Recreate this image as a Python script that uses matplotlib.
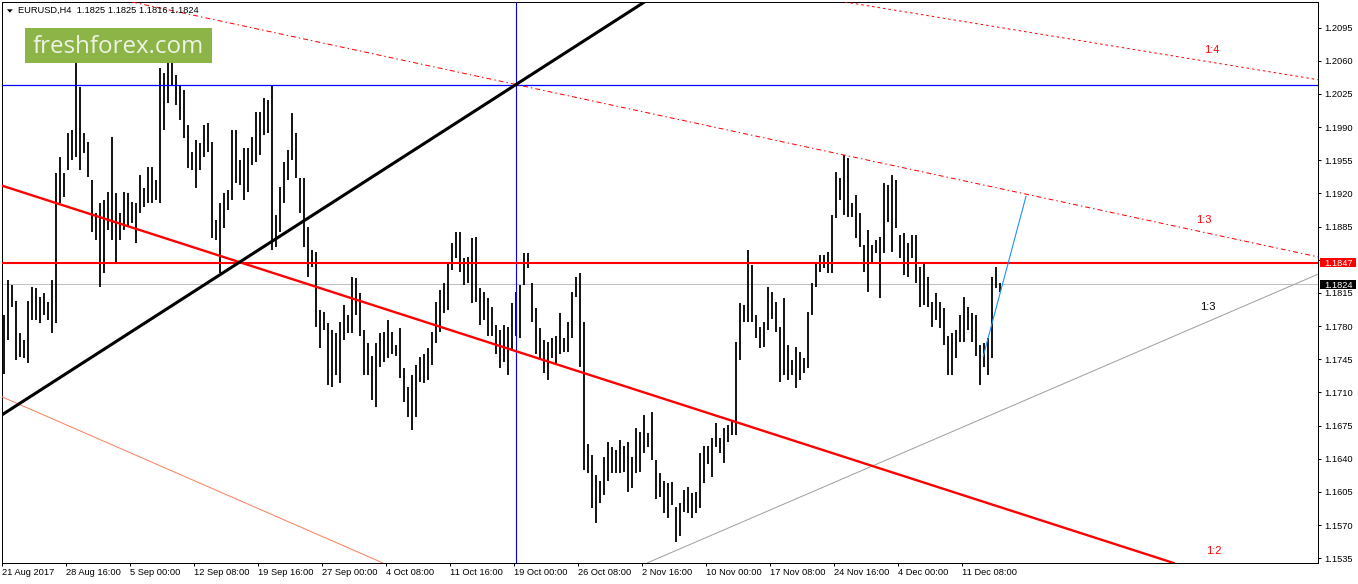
import numpy as np
import matplotlib
matplotlib.use("Agg")
import matplotlib.pyplot as plt
import matplotlib.transforms as mtransforms
from matplotlib.patches import Rectangle, Polygon

plt.rcParams['font.family'] = ['Liberation Sans', 'DejaVu Sans']

# EURUSD, 8-hour bars (two H4 candles each): high and low
bar_high = [
    1.1792, 1.1829, 1.1823, 1.1807, 1.1773, 1.1765, 1.1807, 1.1821, 1.1820, 1.1811,
    1.1815, 1.1805, 1.1829, 1.1942, 1.1959, 1.1942, 1.1984, 1.1987, 1.2066, 1.2032,
    1.1984, 1.1974, 1.1934, 1.1899, 1.1910, 1.1913, 1.1922, 1.1980, 1.1921, 1.1899,
    1.1922, 1.1921, 1.1911, 1.1910, 1.1940, 1.1926, 1.1948, 1.1948, 1.1934, 1.2052,
    1.2047, 1.2071, 1.2066, 1.2045, 1.2034, 1.2029, 1.1992, 1.1964, 1.1976, 1.1973,
    1.1992, 1.1994, 1.1974, 1.1892, 1.1910, 1.1921, 1.1924, 1.1987, 1.1987, 1.1955,
    1.1968, 1.1968, 1.1980, 1.2006, 1.2006, 1.2021, 1.2019, 1.2034, 1.1897, 1.1927,
    1.1953, 1.1966, 1.2005, 1.1984, 1.1936, 1.1936, 1.1885, 1.1860, 1.1858, 1.1797,
    1.1795, 1.1783, 1.1776, 1.1773, 1.1784, 1.1802, 1.1792, 1.1832, 1.1831, 1.1815,
    1.1776, 1.1762, 1.1749, 1.1762, 1.1773, 1.1774, 1.1786, 1.1774, 1.1760, 1.1778,
    1.1736, 1.1716, 1.1728, 1.1739, 1.1747, 1.1751, 1.1757, 1.1774, 1.1805, 1.1818,
    1.1825, 1.1848, 1.1868, 1.1879, 1.1879, 1.1852, 1.1853, 1.1873, 1.1874, 1.1820,
    1.1816, 1.1810, 1.1800, 1.1781, 1.1776, 1.1781, 1.1779, 1.1804, 1.1816, 1.1823,
    1.1857, 1.1857, 1.1826, 1.1799, 1.1778, 1.1765, 1.1763, 1.1767, 1.1770, 1.1794,
    1.1767, 1.1784, 1.1816, 1.1832, 1.1836, 1.1784, 1.1656, 1.1644, 1.1623, 1.1617,
    1.1642, 1.1658, 1.1652, 1.1649, 1.1660, 1.1654, 1.1658, 1.1642, 1.1672, 1.1668,
    1.1686, 1.1667, 1.1689, 1.1639, 1.1625, 1.1617, 1.1614, 1.1615, 1.1589, 1.1593,
    1.1607, 1.1610, 1.1604, 1.1605, 1.1646, 1.1654, 1.1654, 1.1662, 1.1678, 1.1662,
    1.1673, 1.1676, 1.1681, 1.1763, 1.1804, 1.1802, 1.1860, 1.1844, 1.1792, 1.1779,
    1.1784, 1.1821, 1.1816, 1.1805, 1.1779, 1.1810, 1.1760, 1.1744, 1.1758, 1.1753,
    1.1746, 1.1795, 1.1826, 1.1846, 1.1855, 1.1855, 1.1858, 1.1897, 1.1943, 1.1936,
    1.1961, 1.1957, 1.1910, 1.1918, 1.1899, 1.1866, 1.1881, 1.1866, 1.1871, 1.1874,
    1.1931, 1.1929, 1.1940, 1.1934, 1.1876, 1.1878, 1.1868, 1.1876, 1.1876, 1.1842,
    1.1848, 1.1832, 1.1805, 1.1815, 1.1805, 1.1799, 1.1770, 1.1773, 1.1776, 1.1792,
    1.1811, 1.1800, 1.1794, 1.1792, 1.1760, 1.1762, 1.1767, 1.1832, 1.1842, 1.1825,
]
bar_low = [
    1.1730, 1.1765, 1.1800, 1.1744, 1.1747, 1.1746, 1.1741, 1.1786, 1.1786, 1.1783,
    1.1792, 1.1786, 1.1773, 1.1783, 1.1910, 1.1916, 1.1945, 1.1955, 1.1959, 1.1945,
    1.1963, 1.1937, 1.1879, 1.1871, 1.1821, 1.1836, 1.1881, 1.1871, 1.1848, 1.1871,
    1.1881, 1.1885, 1.1889, 1.1868, 1.1899, 1.1906, 1.1910, 1.1910, 1.1913, 1.1910,
    1.1987, 1.2015, 1.2034, 1.2013, 1.1998, 1.1979, 1.1947, 1.1945, 1.1926, 1.1945,
    1.1959, 1.1964, 1.1873, 1.1871, 1.1836, 1.1884, 1.1903, 1.1913, 1.1931, 1.1929,
    1.1913, 1.1922, 1.1950, 1.1953, 1.1961, 1.1982, 1.1984, 1.1860, 1.1863, 1.1879,
    1.1910, 1.1934, 1.1955, 1.1936, 1.1899, 1.1863, 1.1832, 1.1842, 1.1779, 1.1757,
    1.1776, 1.1718, 1.1716, 1.1728, 1.1720, 1.1765, 1.1773, 1.1773, 1.1792, 1.1770,
    1.1728, 1.1728, 1.1702, 1.1695, 1.1737, 1.1742, 1.1746, 1.1751, 1.1749, 1.1725,
    1.1700, 1.1684, 1.1670, 1.1684, 1.1721, 1.1720, 1.1723, 1.1739, 1.1762, 1.1774,
    1.1794, 1.1797, 1.1839, 1.1852, 1.1837, 1.1823, 1.1825, 1.1804, 1.1805, 1.1781,
    1.1786, 1.1770, 1.1770, 1.1751, 1.1736, 1.1742, 1.1728, 1.1755, 1.1770, 1.1767,
    1.1823, 1.1841, 1.1784, 1.1751, 1.1746, 1.1731, 1.1723, 1.1746, 1.1741, 1.1751,
    1.1753, 1.1753, 1.1767, 1.1811, 1.1737, 1.1628, 1.1625, 1.1588, 1.1572, 1.1593,
    1.1602, 1.1617, 1.1625, 1.1625, 1.1625, 1.1626, 1.1605, 1.1609, 1.1625, 1.1626,
    1.1646, 1.1652, 1.1639, 1.1598, 1.1600, 1.1583, 1.1578, 1.1591, 1.1552, 1.1559,
    1.1584, 1.1583, 1.1577, 1.1583, 1.1588, 1.1614, 1.1635, 1.1621, 1.1652, 1.1646,
    1.1636, 1.1658, 1.1665, 1.1665, 1.1744, 1.1784, 1.1784, 1.1784, 1.1767, 1.1757,
    1.1758, 1.1776, 1.1788, 1.1774, 1.1721, 1.1728, 1.1723, 1.1728, 1.1715, 1.1723,
    1.1731, 1.1736, 1.1792, 1.1821, 1.1837, 1.1841, 1.1836, 1.1836, 1.1894, 1.1913,
    1.1897, 1.1895, 1.1895, 1.1873, 1.1863, 1.1837, 1.1816, 1.1846, 1.1857, 1.1810,
    1.1857, 1.1890, 1.1858, 1.1884, 1.1852, 1.1834, 1.1832, 1.1852, 1.1826, 1.1800,
    1.1802, 1.1800, 1.1779, 1.1786, 1.1778, 1.1760, 1.1728, 1.1728, 1.1746, 1.1763,
    1.1763, 1.1776, 1.1763, 1.1749, 1.1718, 1.1737, 1.1728, 1.1746, 1.1820, 1.1816,
]

# time axis, one label every 16 bars
time_labels = [
    "21 Aug 2017", "28 Aug 16:00", "5 Sep 00:00", "12 Sep 08:00", "19 Sep 16:00",
    "27 Sep 00:00", "4 Oct 08:00", "11 Oct 16:00", "19 Oct 00:00", "26 Oct 08:00",
    "2 Nov 16:00", "10 Nov 00:00", "17 Nov 08:00", "24 Nov 16:00", "4 Dec 00:00",
    "11 Dec 08:00",
]
price_ticks = [1.1535, 1.1570, 1.1605, 1.1640, 1.1675, 1.1710, 1.1745, 1.1780, 1.1815,
               1.1850, 1.1885, 1.1920, 1.1955, 1.1990, 1.2025, 1.2060, 1.2095]

# drawn objects, anchors as (bar, price)
black_trend = [(5.25, 1.1702), (128.0, 1.2035)]
red_trend = [(-0.3, 1.1928), (186.5, 1.1674)]
salmon_trend = [(0.25, 1.1704), (94.75, 1.1530)]
fan_13_red = [(128.0, 1.2035), (328.6, 1.1853)]
fan_14_red = [(294.0, 1.2064), (328.6, 1.2040)]
fan_13_gray = [(169.0, 1.1545), (328.6, 1.1835)]
blue_forecast = [(244.8, 1.1748), (255.5, 1.1917)]
blue_level = 1.2035
red_level = 1.1847
bid_price = 1.1824
vline_bar = 127.9
header = "EURUSD,H4  1.1825 1.1825 1.1816 1.1824"

W, H = 1358, 584
fig = plt.figure(figsize=(W / 100, H / 100), dpi=100)
fig.patch.set_facecolor('white')
ax = fig.add_axes([2 / W, 21 / H, 1316 / W, 561 / H])
ax.set_xlim(-0.5, 328.5)
ax.set_ylim(1.1530, 1.21221)

# bid line under the bars
ax.axhline(bid_price, color='#c0c0c0', lw=0.72, zorder=1)

x = np.arange(len(bar_high))
ax.vlines(x, bar_low, bar_high, colors='black', lw=1.3, zorder=2)

# levels and trendlines
ax.axhline(blue_level, color='#0000ff', lw=0.9, zorder=3)
ax.axvline(vline_bar, color='#0000ff', lw=0.8, zorder=3)
ax.axhline(red_level, color='#ff0000', lw=1.5, zorder=3)
ax.axline(*salmon_trend, color='#fa8060', lw=0.72, zorder=3)
ax.axline(*fan_13_gray, color='#a0a0a0', lw=0.72, zorder=3)
ax.axline(*fan_13_red, color='#ff0000', lw=0.72, dashes=(5, 3, 1.5, 3), zorder=3)
ax.axline(*fan_14_red, color='#ff0000', lw=0.72, dashes=(2.5, 3), zorder=3)
ax.axline(*red_trend, color='#ff0000', lw=1.7, zorder=4)
ax.axline(*black_trend, color='black', lw=2.2, zorder=4)
bx, by = zip(*blue_forecast)
ax.plot(bx, by, color='#1e90ff', lw=0.8, zorder=4)

# fan labels
ax.text(302, 1.2071, "1:4", color='red', fontsize=8, ha='center', va='center')
ax.text(300, 1.1892, "1:3", color='red', fontsize=8, ha='center', va='center')
ax.text(301, 1.1800, "1:3", color='black', fontsize=8, ha='center', va='center')
ax.text(302.5, 1.1543, "1:2", color='red', fontsize=8, ha='center', va='center')

# axes styling
for s in ax.spines.values():
    s.set_linewidth(0.72)
    s.set_color('black')
ax.yaxis.tick_right()
ax.set_yticks(price_ticks)
# the 1.1850 label sits under the 1.1847 marker, so it stays blank
ax.set_yticklabels(["" if abs(p - red_level) < 0.0006 else f"{p:.4f}"
                    for p in price_ticks])
ax.tick_params(axis='y', direction='out', length=2.2, width=0.72, pad=2.2,
               labelsize=6.7, colors='black')
ax.set_xticks([16 * i - 0.5 for i in range(len(time_labels))])
ax.set_xticklabels(time_labels)
ax.tick_params(axis='x', direction='out', length=2.2, width=0.72, pad=1.2,
               labelsize=6.7, colors='black')
for lbl in ax.get_xticklabels():
    lbl.set_horizontalalignment('left')

# current price markers on the price scale
blend = mtransforms.blended_transform_factory(ax.transAxes, ax.transData)
for price, fc in [(red_level, '#ff0000'), (bid_price, 'black')]:
    ax.add_patch(Rectangle((1.0015, price - 0.00050), 0.0274, 0.00100,
                           transform=blend, facecolor=fc, edgecolor='none',
                           clip_on=False, zorder=6))
    ax.text(1.0046, price, f"{price:.4f}", transform=blend, color='white',
            fontsize=6.7, ha='left', va='center_baseline', clip_on=False, zorder=7)

# header
fig.text(18.3 / W, 1 - 10.7 / H, header, fontsize=6.7, ha='left', va='center')
fig.add_artist(Polygon([(7 / W, 1 - 9.3 / H), (12.7 / W, 1 - 9.3 / H),
                        (9.85 / W, 1 - 12.7 / H)], closed=True,
                       transform=fig.transFigure, facecolor='black', edgecolor='none'))

# watermark
fig.add_artist(Rectangle((25 / W, 1 - 62.7 / H), 186.7 / W, 34.4 / H,
                         transform=fig.transFigure, facecolor='#8cb447',
                         edgecolor='none', zorder=10))
fig.text(118 / W, 1 - 53.3 / H, "freshforex.com", fontfamily='Open Sans',
         fontsize=17.4, color='#eef3e6', ha='center', va='baseline', zorder=11)

fig.savefig("out.png", dpi=100, facecolor='white')
